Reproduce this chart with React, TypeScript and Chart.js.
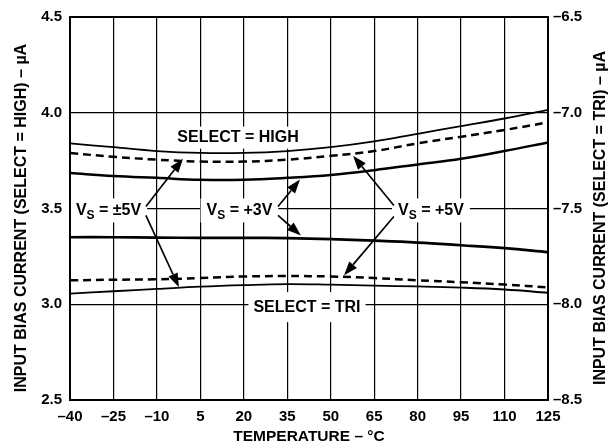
import React, { useEffect, useRef } from "react";
import { Chart, registerables } from "chart.js";
Chart.register(...registerables);

// ---- data ----
const temperatures = [-40, -25, -10, 5, 20, 35, 50, 65, 80, 95, 110, 125];
const xTickValues = [-40, -25, -10, 5, 20, 35, 50, 65, 80, 95, 110, 125];
const leftTickValues = [2.5, 3.0, 3.5, 4.0, 4.5];
const rightTickValues = [-8.5, -8.0, -7.5, -7.0, -6.5];

const highSolidThin = [3.84, 3.82, 3.8, 3.79, 3.79, 3.8, 3.82, 3.85, 3.89, 3.93, 3.97, 4.015];
const highDashed = [3.79, 3.77, 3.755, 3.745, 3.745, 3.755, 3.775, 3.8, 3.84, 3.875, 3.91, 3.95];
const highSolidThick = [3.685, 3.67, 3.66, 3.65, 3.65, 3.66, 3.675, 3.7, 3.73, 3.76, 3.8, 3.845];
const triSolidThick = [3.35, 3.35, 3.348, 3.347, 3.347, 3.345, 3.34, 3.332, 3.322, 3.308, 3.293, 3.272];
const triDashed = [3.125, 3.128, 3.13, 3.137, 3.145, 3.147, 3.145, 3.137, 3.125, 3.115, 3.103, 3.088];
const triSolidThin = [3.055, 3.068, 3.08, 3.092, 3.1, 3.105, 3.102, 3.097, 3.093, 3.087, 3.077, 3.06];

const selectLabels = [
  { text: "SELECT = HIGH", x: 18, y: 3.87, padY: 11 },
  { text: "SELECT = TRI", x: 41.8, y: 2.985, padY: 15 },
];
const supplyLabels = [
  { value: "±5V", x: -26.7, y: 3.49 },
  { value: "+3V", x: 18.5, y: 3.49 },
  { value: "+5V", x: 84.6, y: 3.49 },
];
// arrows in data units
const arrowStartX = [-13.8, -13.8, 31.8, 31.8, 71.8, 71.8];
const arrowStartY = [3.51, 3.464, 3.51, 3.464, 3.516, 3.458];
const arrowEndX = [-1.0, -2.4, 39.4, 39.7, 57.7, 54.6];
const arrowEndY = [3.76, 3.089, 3.651, 3.359, 3.776, 3.151];

const xTitle = "TEMPERATURE – °C";
const leftTitle = "INPUT BIAS CURRENT (SELECT = HIGH) – µA";
const rightTitle = "INPUT BIAS CURRENT (SELECT = TRI) – µA";

const FONT = '"Liberation Sans", Arial, Helvetica, sans-serif';
const fmtDash = (v: number, d: number) => (v < 0 ? "–" + Math.abs(v).toFixed(d) : v.toFixed(d));

function pts(ys: number[]) {
  return temperatures.map((t, i) => ({ x: t, y: ys[i] }));
}

const ANN_FONT = `bold 16px ${FONT}`;
const SUB_FONT = `bold 12px ${FONT}`;

function supplyWidth(ctx: CanvasRenderingContext2D, value: string) {
  ctx.font = ANN_FONT;
  const w1 = ctx.measureText("V").width;
  const w3 = ctx.measureText(" = " + value).width;
  ctx.font = SUB_FONT;
  const w2 = ctx.measureText("S").width;
  return w1 + w2 + w3;
}

const annPlugin = {
  id: "annPlugin",
  beforeDatasetsDraw(chart: any) {
    const { ctx, scales } = chart;
    const xs = scales.x, ys = scales.y;
    ctx.save();
    ctx.fillStyle = "#fff";
    ctx.font = ANN_FONT;
    selectLabels.forEach((l) => {
      ctx.font = ANN_FONT;
      const w = ctx.measureText(l.text).width;
      const cx = xs.getPixelForValue(l.x), cy = ys.getPixelForValue(l.y);
      ctx.fillRect(cx - w / 2 - 5, cy - l.padY, w + 10, l.padY * 2);
    });
    supplyLabels.forEach((l) => {
      const w = supplyWidth(ctx, l.value);
      const cx = xs.getPixelForValue(l.x), cy = ys.getPixelForValue(l.y);
      ctx.fillRect(cx - w / 2 - 6, cy - 12, w + 12, 24);
    });
    ctx.restore();
  },
  afterDatasetsDraw(chart: any) {
    const { ctx, scales, chartArea } = chart;
    const xs = scales.x, ys = scales.y;
    ctx.save();
    ctx.fillStyle = "#000";
    ctx.strokeStyle = "#000";
    ctx.textBaseline = "middle";
    ctx.textAlign = "left";
    selectLabels.forEach((l) => {
      ctx.font = ANN_FONT;
      const w = ctx.measureText(l.text).width;
      const cx = xs.getPixelForValue(l.x), cy = ys.getPixelForValue(l.y);
      ctx.fillText(l.text, cx - w / 2, cy);
    });
    supplyLabels.forEach((l) => {
      const w = supplyWidth(ctx, l.value);
      const cx = xs.getPixelForValue(l.x), cy = ys.getPixelForValue(l.y);
      let px = cx - w / 2;
      ctx.font = ANN_FONT;
      ctx.fillText("V", px, cy);
      px += ctx.measureText("V").width;
      ctx.font = SUB_FONT;
      ctx.fillText("S", px, cy + 5);
      px += ctx.measureText("S").width;
      ctx.font = ANN_FONT;
      ctx.fillText(" = " + l.value, px, cy);
    });
    for (let i = 0; i < arrowStartX.length; i++) {
      const x1 = xs.getPixelForValue(arrowStartX[i]), y1 = ys.getPixelForValue(arrowStartY[i]);
      const x2 = xs.getPixelForValue(arrowEndX[i]), y2 = ys.getPixelForValue(arrowEndY[i]);
      const ang = Math.atan2(y2 - y1, x2 - x1);
      const hl = 14, hw = 5;
      const bx = x2 - hl * Math.cos(ang), by = y2 - hl * Math.sin(ang);
      ctx.lineWidth = 1.7;
      ctx.beginPath();
      ctx.moveTo(x1, y1);
      ctx.lineTo(bx, by);
      ctx.stroke();
      ctx.beginPath();
      ctx.moveTo(x2, y2);
      ctx.lineTo(bx + hw * Math.sin(ang), by - hw * Math.cos(ang));
      ctx.lineTo(bx - hw * Math.sin(ang), by + hw * Math.cos(ang));
      ctx.closePath();
      ctx.fill();
    }
    ctx.lineWidth = 2;
    ctx.strokeRect(chartArea.left, chartArea.top, chartArea.right - chartArea.left, chartArea.bottom - chartArea.top);
    ctx.textAlign = "center";
    ctx.textBaseline = "middle";
    ctx.font = `bold 15.5px ${FONT}`;
    ctx.fillText(xTitle, (chartArea.left + chartArea.right) / 2, 437);
    ctx.font = `bold 16px ${FONT}`;
    const midY = 218;
    ctx.save();
    ctx.translate(22, midY);
    ctx.rotate(-Math.PI / 2);
    ctx.fillText(leftTitle, 0, 0);
    ctx.restore();
    ctx.save();
    ctx.translate(601, midY);
    ctx.rotate(-Math.PI / 2);
    ctx.fillText(rightTitle, 0, 0);
    ctx.restore();
    ctx.restore();
  },
};

export default function App() {
  const ref = useRef<HTMLCanvasElement | null>(null);
  useEffect(() => {
    document.body.style.margin = "0";
    const canvas = ref.current!;
    const line = (data: number[], width: number, dash: number[] = []) => ({
      data: pts(data),
      borderColor: "#000",
      borderWidth: width,
      borderDash: dash,
      pointRadius: 0,
      tension: 0.4,
      fill: false,
      yAxisID: "y",
    });
    const tickFont = { family: FONT, size: 15, weight: "bold" as const };
    const chart = new Chart(canvas, {
      type: "line",
      data: {
        datasets: [
          line(highSolidThin, 1.8),
          line(highDashed, 2.5, [8, 5]),
          line(highSolidThick, 2.5),
          line(triSolidThick, 2.7),
          line(triDashed, 2.5, [8, 5]),
          line(triSolidThin, 1.8),
        ] as any,
      },
      options: {
        responsive: false,
        animation: false,
        devicePixelRatio: 1,
        layout: { padding: { top: 16, left: 0, right: 0, bottom: 0 } },
        plugins: { legend: { display: false }, tooltip: { enabled: false } },
        scales: {
          x: {
            type: "linear",
            min: -40,
            max: 125,
            afterBuildTicks: (s: any) => {
              s.ticks = xTickValues.map((v) => ({ value: v }));
            },
            afterFit: (s: any) => {
              s.height = 46;
            },
            grid: { color: "#000", lineWidth: 1.2, drawTicks: false },
            border: { color: "#000", width: 2 },
            ticks: {
              color: "#000",
              padding: 8,
              maxRotation: 0,
              autoSkip: false,
              font: tickFont,
              callback: (v: any) => fmtDash(Number(v), 0),
            },
          },
          y: {
            type: "linear",
            position: "left",
            min: 2.5,
            max: 4.5,
            afterBuildTicks: (s: any) => {
              s.ticks = leftTickValues.map((v) => ({ value: v }));
            },
            afterFit: (s: any) => {
              s.width = 70;
            },
            grid: { color: "#000", lineWidth: 1.2, drawTicks: false },
            border: { color: "#000", width: 2 },
            ticks: {
              color: "#000",
              padding: 8,
              font: tickFont,
              callback: (v: any) => fmtDash(Number(v), 1),
            },
          },
          y2: {
            type: "linear",
            position: "right",
            min: -8.5,
            max: -6.5,
            afterBuildTicks: (s: any) => {
              s.ticks = rightTickValues.map((v) => ({ value: v }));
            },
            afterFit: (s: any) => {
              s.width = 63;
            },
            grid: { display: false, drawTicks: false },
            border: { color: "#000", width: 2 },
            ticks: {
              color: "#000",
              padding: 5,
              font: tickFont,
              callback: (v: any) => fmtDash(Number(v), 1),
            },
          },
        },
      },
      plugins: [annPlugin as any],
    });
    return () => chart.destroy();
  }, []);
  return <canvas ref={ref} width={611} height={446} style={{ display: "block" }} />;
}
